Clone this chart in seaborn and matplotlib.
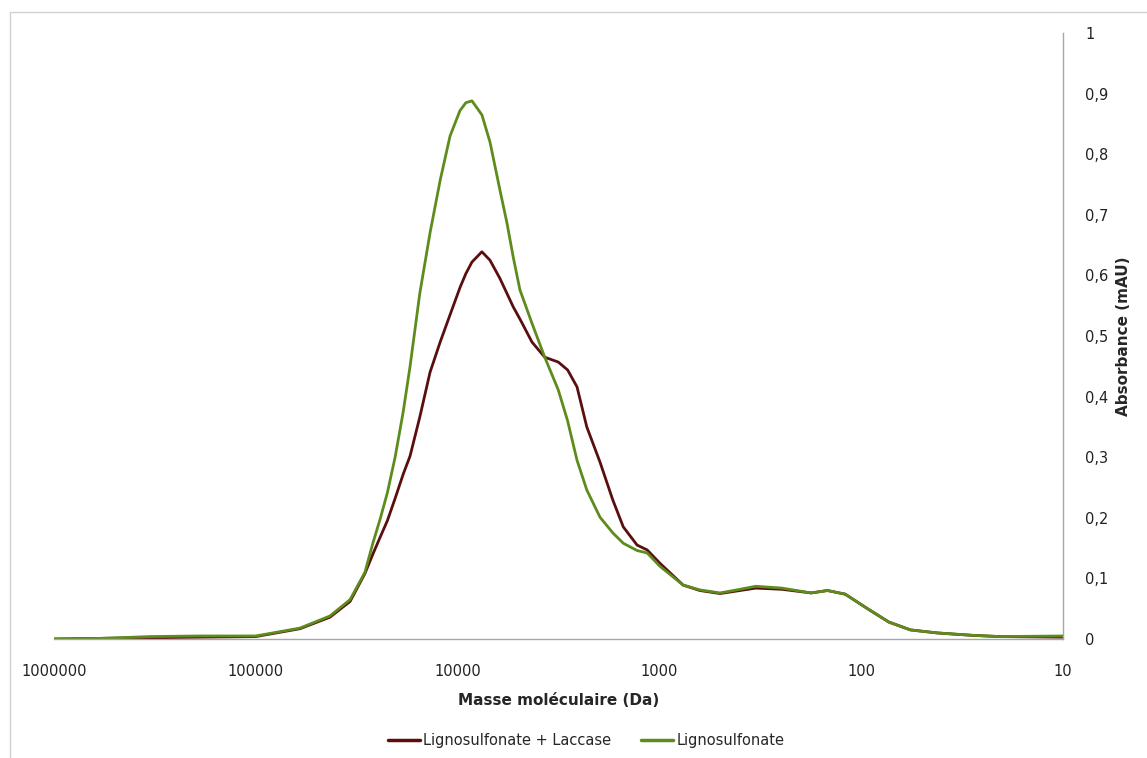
"""Size-exclusion profile of lignosulfonate with and without laccase."""

import matplotlib

matplotlib.use("Agg")
import matplotlib.pyplot as plt
import matplotlib.ticker as mticker
import pandas as pd
import seaborn as sns
from matplotlib.lines import Line2D

# molecular mass grid (Da), shared by both series
MASS_DA = [
    1000000, 592000, 334000, 189000, 100000, 60400, 42900, 34100, 28800,
    26300, 24200, 22300, 20400, 18600, 17200, 15400, 13700, 12200, 10900,
    9730, 9100, 8490, 7580, 6910, 6170, 5690, 5300, 4910, 4280, 3700,
    3170, 2850, 2560, 2290, 1970, 1700, 1510, 1290, 1150, 994, 763,
    630, 501, 399, 333, 247, 177, 147, 120, 93, 73, 57, 42, 28, 20.5, 10,
]

LIGNO_LACCASE = [
    0.000, 0.001, 0.002, 0.003, 0.004, 0.017, 0.036, 0.062, 0.108,
    0.140, 0.168, 0.195, 0.232, 0.272, 0.302, 0.366, 0.440, 0.490, 0.535,
    0.580, 0.603, 0.622, 0.639, 0.625, 0.595, 0.570, 0.548, 0.528, 0.490, 0.465,
    0.457, 0.444, 0.416, 0.350, 0.292, 0.229, 0.185, 0.155, 0.147, 0.125, 0.089,
    0.080, 0.075, 0.080, 0.084, 0.082, 0.076, 0.080, 0.074, 0.050, 0.028, 0.015,
    0.010, 0.006, 0.004, 0.003,
]

LIGNO = [
    0.000, 0.001, 0.004, 0.005, 0.005, 0.018, 0.038, 0.065, 0.110,
    0.158, 0.198, 0.241, 0.300, 0.375, 0.450, 0.570, 0.670, 0.757, 0.830,
    0.872, 0.885, 0.888, 0.865, 0.820, 0.741, 0.686, 0.630, 0.576, 0.521, 0.465,
    0.411, 0.360, 0.295, 0.246, 0.201, 0.175, 0.158, 0.146, 0.142, 0.120, 0.089,
    0.081, 0.076, 0.082, 0.087, 0.084, 0.076, 0.080, 0.074, 0.050, 0.028, 0.015,
    0.010, 0.006, 0.004, 0.005,
]

SERIES_NAMES = ["Lignosulfonate + Laccase", "Lignosulfonate"]
SERIES_COLORS = ["#5A0E0E", "#5E8C1C"]

X_TICKS = [1000000, 100000, 10000, 1000, 100, 10]
Y_TICKS = [0, 0.1, 0.2, 0.3, 0.4, 0.5, 0.6, 0.7, 0.8, 0.9, 1]


def build_frame() -> pd.DataFrame:
    parts = []
    for name, values in zip(SERIES_NAMES, [LIGNO_LACCASE, LIGNO]):
        parts.append(pd.DataFrame({"mass": MASS_DA, "absorbance": values, "series": name}))
    return pd.concat(parts, ignore_index=True)


sns.set_theme(style="white")
plt.rcParams["font.family"] = ["DejaVu Sans"]

fig = plt.figure(figsize=(11.47, 7.58), dpi=100)
ax = fig.add_axes([54 / 1147, 1 - 639 / 758, (1063 - 54) / 1147, (639 - 33) / 758])

data = build_frame()
sns.lineplot(
    data=data,
    x="mass",
    y="absorbance",
    hue="series",
    hue_order=SERIES_NAMES,
    palette=SERIES_COLORS,
    linewidth=2.0,
    ax=ax,
    legend=False,
)

ax.set_xscale("log")
ax.set_xlim(1000000, 10)
ax.set_ylim(0, 1)
ax.xaxis.set_major_locator(mticker.FixedLocator(X_TICKS))
ax.xaxis.set_major_formatter(mticker.FixedFormatter([str(t) for t in X_TICKS]))
ax.xaxis.set_minor_locator(mticker.NullLocator())
ax.set_yticks(Y_TICKS)
ax.set_yticklabels([f"{t:g}".replace(".", ",") for t in Y_TICKS])

ax.yaxis.tick_right()
ax.yaxis.set_label_position("right")
ax.tick_params(axis="x", length=0, pad=18, labelsize=10.5, colors="#222222")
ax.tick_params(axis="y", length=0, pad=16, labelsize=10.5, colors="#222222")

for side in ["top", "left"]:
    ax.spines[side].set_visible(False)
for side in ["bottom", "right"]:
    ax.spines[side].set_color("#a6a6a6")
    ax.spines[side].set_linewidth(1.0)

ax.set_xlabel("Masse moléculaire (Da)", fontsize=11, fontweight="bold", labelpad=10)
ax.set_ylabel("Absorbance (mAU)", fontsize=11, fontweight="bold", labelpad=5)
ax.grid(False)

handles = [Line2D([0], [0], color=c, linewidth=2.5) for c in SERIES_COLORS]
fig.legend(
    handles,
    SERIES_NAMES,
    loc="center",
    bbox_to_anchor=(586 / 1147, 1 - 741 / 758),
    ncol=2,
    frameon=False,
    fontsize=10.5,
    handlelength=2.2,
    handletextpad=0.2,
    columnspacing=2.1,
)

# light outer frame of the chart area
frame_color = "#d0d0d0"
fig.add_artist(Line2D([10 / 1147, 10 / 1147], [0, 1 - 12 / 758], color=frame_color, linewidth=1.0))
fig.add_artist(Line2D([10 / 1147, 1], [1 - 12 / 758, 1 - 12 / 758], color=frame_color, linewidth=1.0))

fig.savefig("out.png", dpi=100)
plt.close(fig)
